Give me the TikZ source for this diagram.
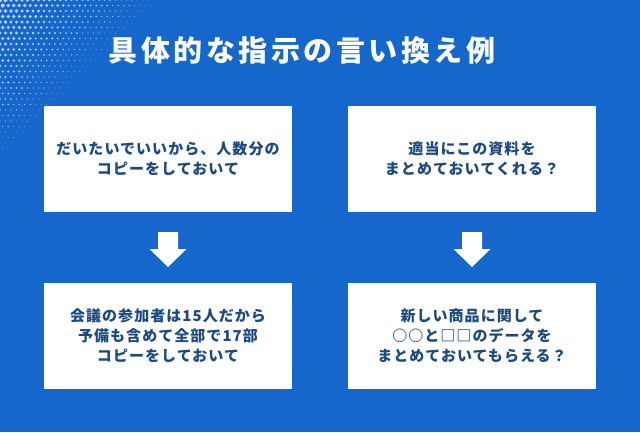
\documentclass[tikz,border=0pt]{standalone}
\usepackage{fontspec}
\setmainfont{Noto Sans CJK JP}
\usetikzlibrary{positioning}
\definecolor{bgblue}{RGB}{22,103,204}
\definecolor{txtblue}{RGB}{28,74,128}

\tikzset{
  card/.style={fill=white, minimum width=248pt, minimum height=106pt, inner sep=0pt,
    text=txtblue, font=\bfseries\fontsize{15}{20}\selectfont\addfontfeatures{LetterSpace=7}, align=center},
  downarrow/.style={fill=white},
}

\begin{document}
\begin{tikzpicture}[x=1pt,y=-1pt]
  \fill[bgblue] (0,0) rectangle (640,432);
  \useasboundingbox (0,0) rectangle (640,432);

  % Halftone
  \foreach \i in {0,...,28}{
    \foreach \j in {0,...,28}{
      \pgfmathsetmacro{\r}{2.1*(1-(\i*5.5+\j*5.5)/175)}
      \ifdim \r pt>0.2pt
        \fill[white!70!bgblue] ({\i*5.5+(mod(\j,2))*2.75},{\j*5.5}) circle (\r);
      \fi
    }
  }

  % Title
  \node[text=white, font=\bfseries\fontsize{29}{32}\selectfont\addfontfeatures{LetterSpace=12}] (title) at (302,50) {具体的な指示の言い換え例};

  % Cards
  \node[card] (q1) at (168,159) {だいたいでいいから、人数分の\\コピーをしておいて};
  \node[card] (q2) at (472,159) {適当にこの資料を\\まとめておいてくれる？};
  \node[card] (a1) at (168,335.5) {会議の参加者は15人だから\\予備も含めて全部で17部\\コピーをしておいて};
  \node[card] (a2) at (472,335.5) {新しい商品に関して\\○○と□□のデータを\\まとめておいてもらえる？};

  % Arrows
  \foreach \c in {168,472}{
    \fill[downarrow] (\c-10,232) -- (\c+10,232) -- (\c+10,249) -- (\c+18.5,249)
      -- (\c,267) -- (\c-18.5,249) -- (\c-10,249) -- cycle;
  }
\end{tikzpicture}
\end{document}
